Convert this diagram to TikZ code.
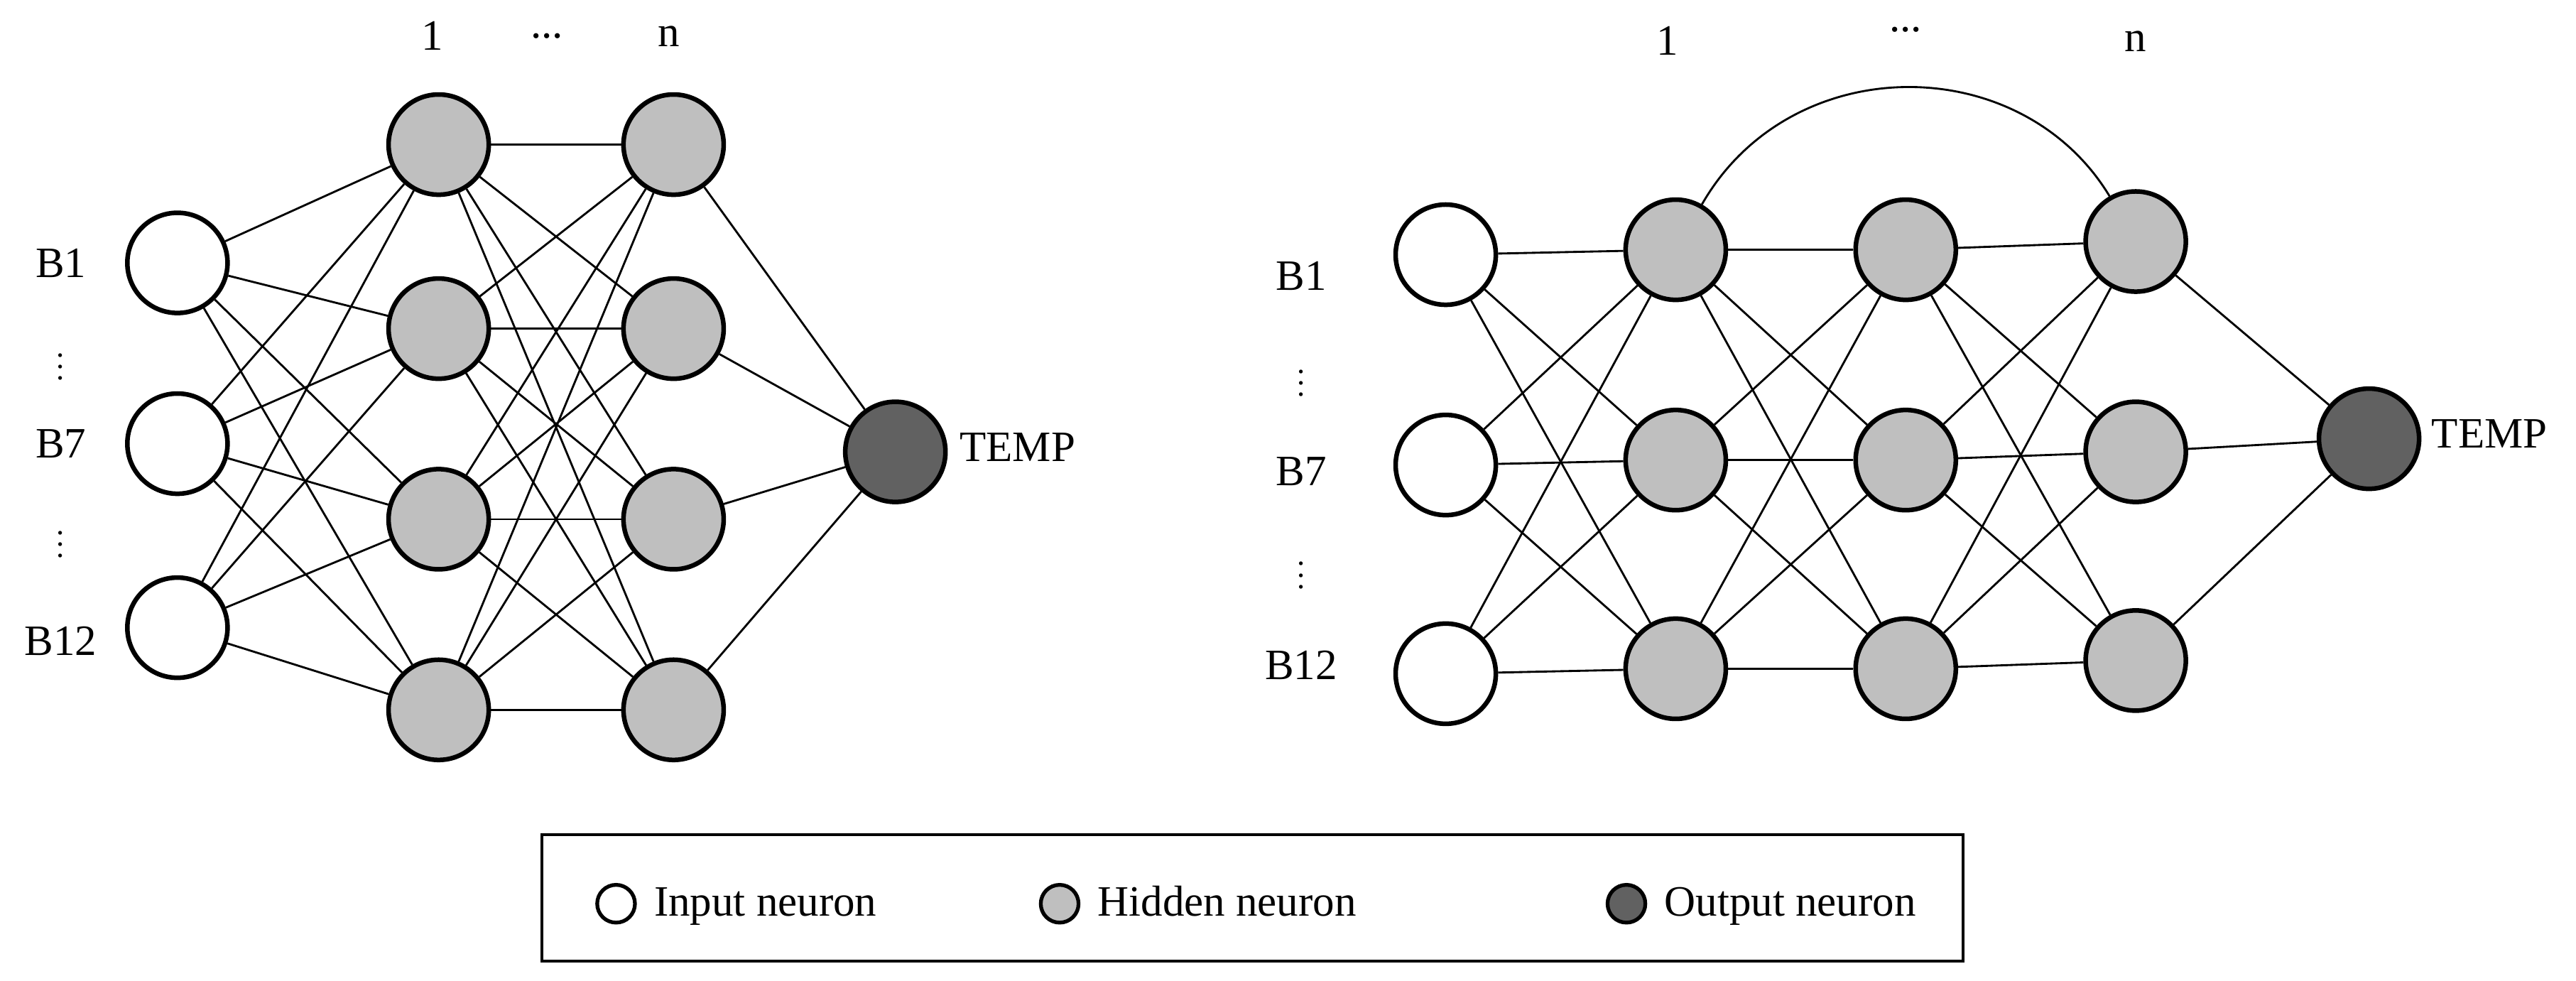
\documentclass[tikz,border=0pt]{standalone}
\usepackage{fontspec}
\setmainfont{Liberation Serif}
\begin{document}
\begin{tikzpicture}[x=0.02cm,y=-0.02cm,
  neu/.style={circle,draw,line width=1.6pt,minimum size=1.22cm,inner sep=0pt},
  inp/.style={neu,fill=white},
  hid/.style={neu,fill=gray!50},
  outn/.style={neu,fill=black!62},
  lneu/.style={circle,draw,line width=1.3pt,minimum size=0.46cm,inner sep=0pt},
  lab/.style={font=\fontsize{15}{18}\selectfont},
  glab/.style={lab,anchor=west,text height=2.4ex,text depth=0.6ex},
  dts/.style={font=\fontsize{11}{12}\selectfont,inner sep=0pt},
  con/.style={line width=0.7pt}]
\useasboundingbox (0,0) rectangle (1568,597);
% left network
\foreach \i/\y in {1/160,2/270,3/382} \node[inp] (li\i) at (108,\y) {};
\foreach \i/\y in {1/88,2/200,3/316,4/432} {
  \node[hid] (la\i) at (267,\y) {};
  \node[hid] (lb\i) at (410,\y) {};}
\node[outn] (lo) at (545,275) {};
\foreach \i in {1,2,3} \foreach \j in {1,...,4} \draw[con] (li\i) -- (la\j);
\foreach \i in {1,...,4} \foreach \j in {1,...,4} \draw[con] (la\i) -- (lb\j);
\foreach \i in {1,...,4} \draw[con] (lb\i) -- (lo);
\node[lab] (lt1) at (263,22) {1};
\node[lab] (lt2) at (333,22) {...};
\node[lab] (lt3) at (407,22) {n};
\node[lab] (lx1) at (37,160) {B1};
\node[dts] (lx2) at (37,218) {$\vdots$};
\node[lab] (lx3) at (37,270) {B7};
\node[dts] (lx4) at (37,326) {$\vdots$};
\node[lab] (lx5) at (37,390) {B12};
\node[lab,anchor=west] (lxo) at (578,272) {TEMP};
% right network
\foreach \i/\y in {1/155,2/283,3/410} {
  \node[inp] (ri\i) at (880,\y) {};
  \node[hid] (ra\i) at (1020,\y-3) {};
  \node[hid] (rb\i) at (1160,\y-3) {};
  \node[hid] (rc\i) at (1300,\y-8) {};}
\node[outn] (ro) at (1442,267) {};
\foreach \i in {1,2,3} \foreach \j in {1,2,3} {
  \draw[con] (ri\i) -- (ra\j);
  \draw[con] (ra\i) -- (rb\j);
  \draw[con] (rb\i) -- (rc\j);}
\foreach \i in {1,2,3} \draw[con] (rc\i) -- (ro);
\draw[con] (ra1.60) .. controls (1090,30) and (1230,30) .. (rc1.120);
\node[lab] (rt1) at (1015,25) {1};
\node[lab] (rt2) at (1160,18) {...};
\node[lab] (rt3) at (1300,25) {n};
\node[lab] (rx1) at (792,168) {B1};
\node[dts] (rx2) at (792,228) {$\vdots$};
\node[lab] (rx3) at (792,287) {B7};
\node[dts] (rx4) at (792,345) {$\vdots$};
\node[lab] (rx5) at (792,405) {B12};
\node[lab,anchor=west] (rxo) at (1474,264) {TEMP};
% legend
\draw[line width=1pt] (330,508) rectangle (1195,585);
\node[lneu,fill=white] (g1) at (375,550) {};
\node[glab] (g1t) at (392,550) {Input neuron};
\node[lneu,fill=gray!50] (g2) at (645,550) {};
\node[glab] (g2t) at (662,550) {Hidden neuron};
\node[lneu,fill=black!62] (g3) at (990,550) {};
\node[glab] (g3t) at (1007,550) {Output neuron};
\end{tikzpicture}
\end{document}
